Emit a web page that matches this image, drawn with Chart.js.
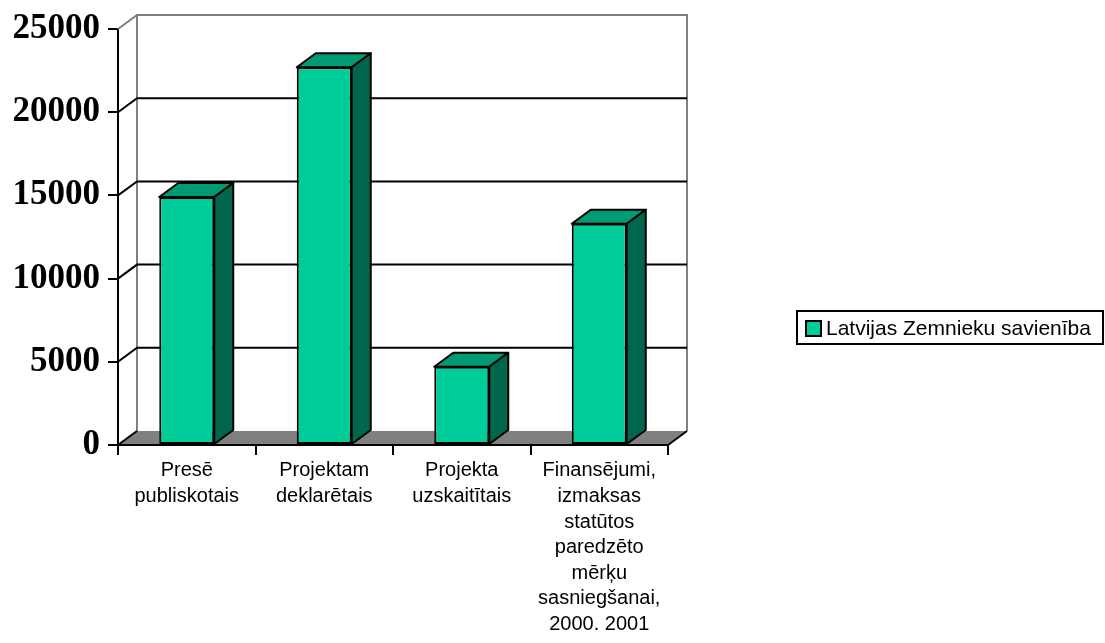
<!DOCTYPE html>
<html>
<head>
<meta charset="utf-8">
<script src="https://cdn.jsdelivr.net/npm/chart.js@4.4.0/dist/chart.umd.min.js"></script>
<style>
    html, body { margin: 0; padding: 0; background: #ffffff; }
    #wrap { width: 1105px; height: 643px; position: relative; }
</style>
</head>
<body>
<div id="wrap"><canvas id="chart"></canvas></div>
<script>
const categories = [
    ['Presē', 'publiskotais'],
    ['Projektam', 'deklarētais'],
    ['Projekta', 'uzskaitītais'],
    ['Finansējumi,', 'izmaksas', 'statūtos', 'paredzēto', 'mērķu', 'sasniegšanai,', '2000. 2001']
];
const seriesName = 'Latvijas Zemnieku savienība';
const seriesValues = [14900, 22700, 4700, 13300];
const yTicks = [0, 5000, 10000, 15000, 20000, 25000];

// 3D depth offset
const DX = 19, DY = -14;
const frontColor = '#00cc99';
const topColor = '#009a74';
const sideColor = '#00664c';
const wallGray = '#808080';

const plot3d = {
    id: 'plot3d',
    beforeDatasetsDraw(chart) {
        const ctx = chart.ctx;
        const a = chart.chartArea;
        const y = chart.scales.y;
        ctx.save();
        // back wall outline
        ctx.strokeStyle = wallGray;
        ctx.lineWidth = 2;
        ctx.beginPath();
        ctx.moveTo(a.left + DX, a.bottom + DY);
        ctx.lineTo(a.left + DX, a.top + DY);
        ctx.lineTo(a.right + DX, a.top + DY);
        ctx.lineTo(a.right + DX, a.bottom + DY);
        ctx.stroke();
        // top diagonal
        ctx.beginPath();
        ctx.moveTo(a.left, a.top);
        ctx.lineTo(a.left + DX, a.top + DY);
        ctx.stroke();
        // gridlines on the back wall, diagonals from the front axis
        ctx.strokeStyle = '#000000';
        yTicks.forEach(v => {
            if (v === 0 || v === yTicks[yTicks.length - 1]) return;
            const py = y.getPixelForValue(v);
            ctx.beginPath();
            ctx.moveTo(a.left, py);
            ctx.lineTo(a.left + DX, py + DY);
            ctx.lineTo(a.right + DX, py + DY);
            ctx.stroke();
        });
        // floor
        ctx.fillStyle = wallGray;
        ctx.beginPath();
        ctx.moveTo(a.left, a.bottom);
        ctx.lineTo(a.left + DX, a.bottom + DY);
        ctx.lineTo(a.right + DX, a.bottom + DY);
        ctx.lineTo(a.right, a.bottom);
        ctx.closePath();
        ctx.fill();
        ctx.strokeStyle = '#000000';
        ctx.beginPath();
        ctx.moveTo(a.left + DX, a.bottom + DY);
        ctx.lineTo(a.left, a.bottom);
        ctx.lineTo(a.right, a.bottom);
        ctx.lineTo(a.right + DX, a.bottom + DY);
        ctx.stroke();
        ctx.restore();
    },
    afterDatasetsDraw(chart) {
        const ctx = chart.ctx;
        const meta = chart.getDatasetMeta(0);
        ctx.save();
        ctx.lineWidth = 2;
        ctx.strokeStyle = '#000000';
        ctx.lineJoin = 'round';
        meta.data.forEach(bar => {
            const p = bar.getProps(['x', 'y', 'base', 'width'], true);
            const x0 = p.x - p.width / 2, x1 = p.x + p.width / 2;
            // top face
            ctx.fillStyle = topColor;
            ctx.beginPath();
            ctx.moveTo(x0, p.y);
            ctx.lineTo(x0 + DX, p.y + DY);
            ctx.lineTo(x1 + DX, p.y + DY);
            ctx.lineTo(x1, p.y);
            ctx.closePath();
            ctx.fill();
            ctx.stroke();
            // side face
            ctx.fillStyle = sideColor;
            ctx.beginPath();
            ctx.moveTo(x1, p.y);
            ctx.lineTo(x1 + DX, p.y + DY);
            ctx.lineTo(x1 + DX, p.base + DY);
            ctx.lineTo(x1, p.base);
            ctx.closePath();
            ctx.fill();
            ctx.stroke();
        });
        ctx.restore();
    },
    afterDraw(chart) {
        // legend box
        const ctx = chart.ctx;
        ctx.save();
        ctx.fillStyle = '#ffffff';
        ctx.strokeStyle = '#000000';
        ctx.lineWidth = 2;
        ctx.fillRect(797, 311, 306, 33);
        ctx.strokeRect(797, 311, 306, 33);
        ctx.fillStyle = frontColor;
        ctx.fillRect(806, 321, 15, 15);
        ctx.strokeRect(806, 321, 15, 15);
        ctx.fillStyle = '#000000';
        ctx.font = '21px "Liberation Sans", Arial, sans-serif';
        ctx.textBaseline = 'middle';
        ctx.fillText(seriesName, 826, 329);
        ctx.restore();
    }
};

new Chart(document.getElementById('chart'), {
    type: 'bar',
    data: {
        labels: categories,
        datasets: [{
            label: seriesName,
            data: seriesValues,
            backgroundColor: frontColor,
            borderColor: '#000000',
            borderWidth: 2,
            borderSkipped: false,
            barPercentage: 0.4,
            categoryPercentage: 1.0
        }]
    },
    options: {
        responsive: true,
        maintainAspectRatio: false,
        animation: false,
        devicePixelRatio: 1,
        layout: { padding: { left: 0, top: 27, right: 437, bottom: 0 } },
        plugins: {
            legend: { display: false },
            tooltip: { enabled: false }
        },
        scales: {
            x: {
                afterFit(scale) { scale.height = 643 - 445; },
                grid: {
                    offset: true,
                    drawOnChartArea: false,
                    drawTicks: true,
                    tickLength: 10,
                    color: '#000000',
                    lineWidth: 2
                },
                border: { display: true, color: '#000000', width: 2 },
                ticks: {
                    color: '#000000',
                    padding: 3,
                    maxRotation: 0,
                    autoSkip: false,
                    font: { family: '"Liberation Sans", Arial, sans-serif', size: 20, lineHeight: 1.28 }
                }
            },
            y: {
                min: 0,
                max: 25000,
                afterFit(scale) { scale.width = 118; },
                afterBuildTicks(scale) { scale.ticks = yTicks.map(v => ({ value: v })); },
                grid: {
                    drawOnChartArea: false,
                    drawTicks: true,
                    tickLength: 10,
                    color: '#000000',
                    lineWidth: 2
                },
                border: { display: true, color: '#000000', width: 2 },
                ticks: {
                    color: '#000000',
                    padding: 8,
                    callback: v => String(v),
                    font: { family: '"Liberation Serif", "Times New Roman", serif', size: 35, weight: 'bold' }
                }
            }
        }
    },
    plugins: [plot3d]
});
</script>
</body>
</html>
